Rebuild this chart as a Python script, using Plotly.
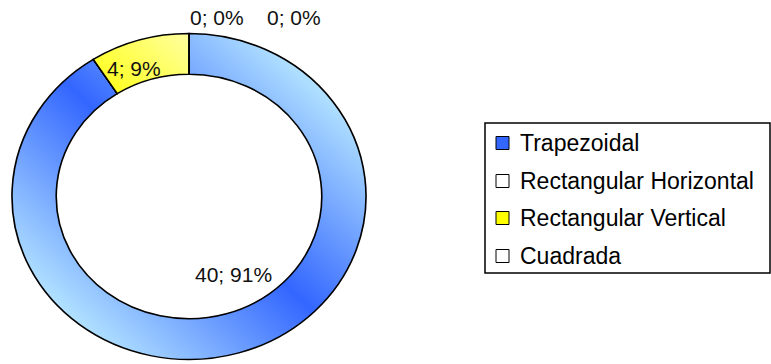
import plotly.graph_objects as go

# Tipo de sección: conteo por categoría
labels = ["Trapezoidal", "Rectangular Horizontal", "Rectangular Vertical", "Cuadrada"]
values = [40, 0, 4, 0]
colors = ["#3366FF", "#FFFFFF", "#FFFF00", "#FFFFFF"]

W, H = 771, 364

# where each data label sits (pixels from the top-left corner)
label_pos = [(234, 274), (217, 17), (134, 68), (294, 17)]
# legend rows (pixel y of each entry)
legend_rows = [143, 181, 218, 256]


def px(x):
    return x / W


def py(y):
    return 1 - y / H


total = sum(values)

fig = go.Figure(
    go.Pie(
        labels=labels,
        values=values,
        sort=False,
        direction="clockwise",
        rotation=0,
        hole=0.75,
        marker=dict(colors=colors, line=dict(color="black", width=1.5)),
        textinfo="none",
        hoverinfo="label+value+percent",
        showlegend=False,
        domain=dict(x=[26 / W, 352 / W], y=[4.5 / H, 330.5 / H]),
    )
)

annotations = []
for v, (x, y) in zip(values, label_pos):
    annotations.append(dict(
        text=f"{v}; {100 * v / total:.0f}%",
        x=px(x), y=py(y), xref="paper", yref="paper",
        xanchor="center", yanchor="middle", showarrow=False,
        font=dict(family="Liberation Sans, Arial, sans-serif", size=21, color="#111"),
    ))

# legend box, swatches and entries
shapes = [dict(type="rect", xref="paper", yref="paper",
               x0=px(485), x1=px(770), y0=py(273), y1=py(123),
               line=dict(color="black", width=1.5), fillcolor="white", layer="below")]
for lab, col, yr in zip(labels, colors, legend_rows):
    shapes.append(dict(type="rect", xref="paper", yref="paper",
                       x0=px(496), x1=px(509), y0=py(yr + 6.5), y1=py(yr - 6.5),
                       line=dict(color="black", width=1), fillcolor=col))
    annotations.append(dict(
        text=lab, x=px(518), y=py(yr), xref="paper", yref="paper",
        xanchor="left", yanchor="middle", showarrow=False,
        font=dict(family="Liberation Sans, Arial, sans-serif", size=23, color="black"),
    ))

fig.update_layout(
    width=W, height=H,
    margin=dict(l=0, r=0, t=0, b=0),
    paper_bgcolor="white", plot_bgcolor="white",
    annotations=annotations, shapes=shapes,
)

# shaded fills on the ring and a slight horizontal stretch
post = r"""
(function(){
var gd = document.getElementById('{plot_id}');
var NS = 'http://www.w3.org/2000/svg';
function grad(defs, id, x1, y1, x2, y2, edge, mid){
  var old = document.getElementById(id);
  if(old) old.parentNode.removeChild(old);
  var g = document.createElementNS(NS, 'linearGradient');
  g.setAttribute('id', id);
  g.setAttribute('gradientUnits', 'userSpaceOnUse');
  g.setAttribute('x1', x1); g.setAttribute('y1', y1);
  g.setAttribute('x2', x2); g.setAttribute('y2', y2);
  [[0, edge], [0.5, mid], [1, edge]].forEach(function(s){
    var st = document.createElementNS(NS, 'stop');
    st.setAttribute('offset', s[0]);
    st.setAttribute('stop-color', s[1]);
    g.appendChild(st);
  });
  defs.appendChild(g);
}
function paint(){
  var layer = gd.querySelector('.pielayer .trace');
  if(!layer) return;
  var paths = layer.querySelectorAll('path.surface');
  var ring = null, big = 0;
  paths.forEach(function(p){
    var b = p.getBBox();
    if(b.width * b.height > big){ big = b.width * b.height; ring = b; }
  });
  if(!ring) return;
  var cx = ring.x + ring.width / 2, cy = ring.y + ring.height / 2, r = ring.height / 2;
  layer.setAttribute('transform', 'translate(' + cx + ',0) scale(1.086,1) translate(' + (-cx) + ',0)');
  var svg = gd.querySelector('.main-svg');
  var defs = svg.querySelector('defs');
  if(!defs){ defs = document.createElementNS(NS, 'defs'); svg.insertBefore(defs, svg.firstChild); }
  var a = r * 0.72;
  grad(defs, 'ringBlue', cx + a, cy - a, cx - a, cy + a, '#b4e4ff', '#3366ff');
  grad(defs, 'ringYellow', cx + a, cy - a, cx - a, cy + a, '#ffffe6', '#ffff00');
  paths.forEach(function(p){
    var f = p.style.fill.replace(/\s/g, '');
    if(f === 'rgb(51,102,255)') p.style.fill = 'url(#ringBlue)';
    else if(f === 'rgb(255,255,0)') p.style.fill = 'url(#ringYellow)';
  });
}
paint();
gd.on('plotly_afterplot', paint);
})();
"""

fig.write_html("out.html", post_script=post)
